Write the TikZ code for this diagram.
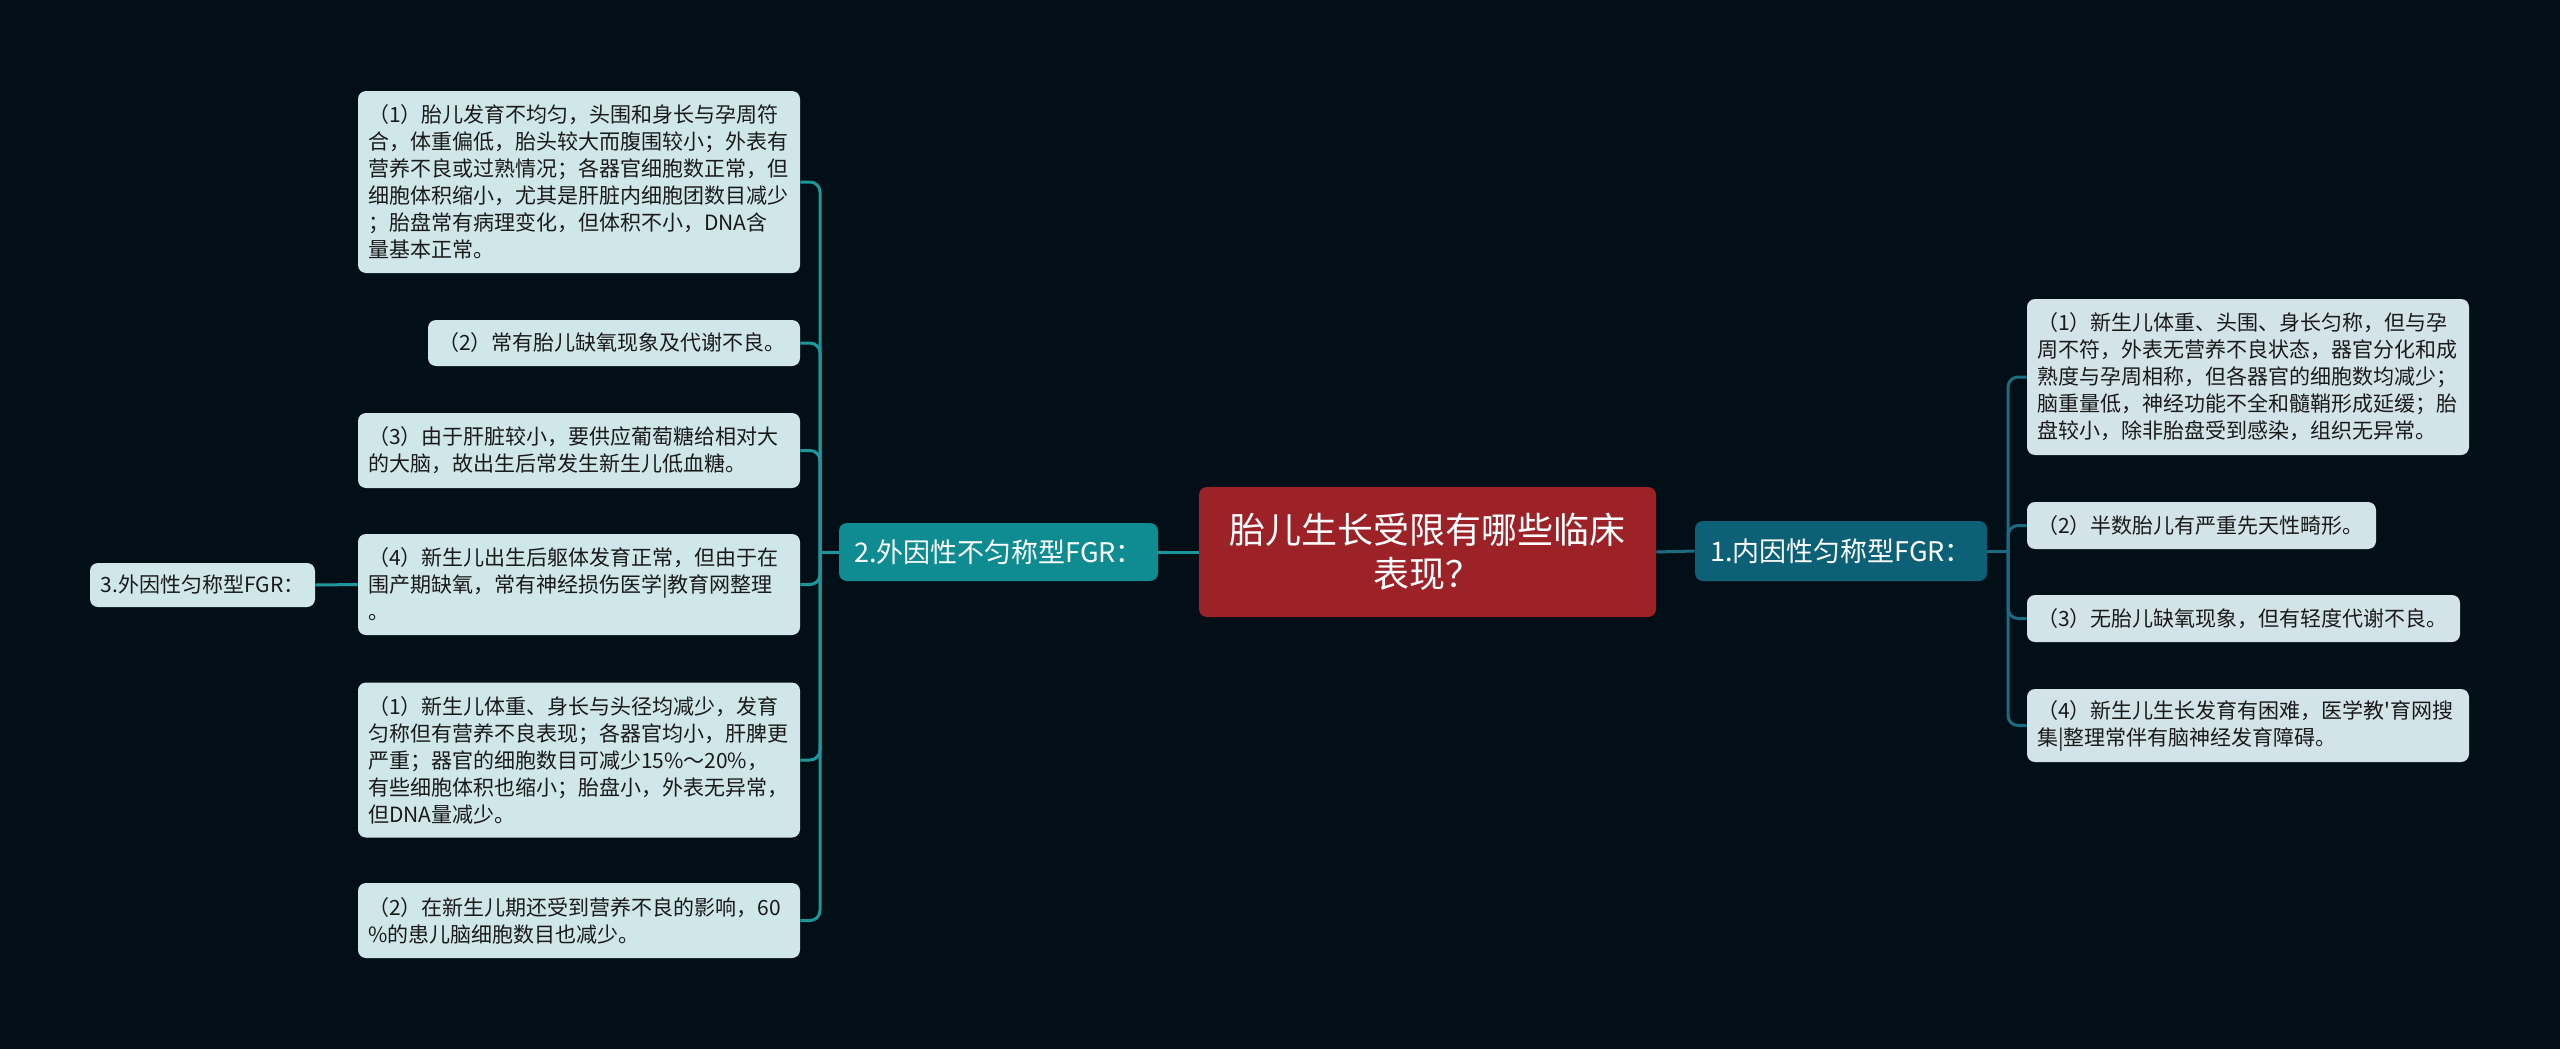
\documentclass[tikz,border=0pt]{standalone}
\usepackage{fontspec}
\newfontfamily\cjk{Noto Sans CJK SC}
\definecolor{bg}{HTML}{030F17}
\definecolor{rootfill}{HTML}{9C2228}
\definecolor{onefill}{HTML}{0D6177}
\definecolor{twofill}{HTML}{0F8C91}
\definecolor{boxfill}{HTML}{D0E7EA}
\definecolor{rboxfill}{HTML}{D3E4E9}
\definecolor{txt}{HTML}{1A1A1A}
\definecolor{lline}{HTML}{1E979C}
\definecolor{rline}{HTML}{1B6C80}
\begin{document}
\begin{tikzpicture}[x=0.5pt,y=-0.5pt,
  every node/.style={font=\cjk},
  leaf/.style={fill=boxfill, rounded corners=4pt, text=txt, inner xsep=5pt, inner ysep=0pt,
    align=left, font=\cjk\fontsize{10.5pt}{13.5pt}\selectfont},
  rleaf/.style={leaf, fill=rboxfill},
  rootbox/.style={fill=rootfill, rounded corners=4pt, text=white, align=center,
    minimum width=228.5pt, minimum height=65pt, inner sep=0pt,
    font=\cjk\fontsize{18pt}{22pt}\selectfont},
  mainbox/.style={rounded corners=4pt, text=white, align=center, inner sep=0pt,
    font=\cjk\fontsize{13.5pt}{16pt}\selectfont},
  lconn/.style={draw=lline, line width=1.5pt, rounded corners=5pt},
  rconn/.style={draw=rline, line width=1.5pt, rounded corners=5pt}
]
\useasboundingbox (0,0) rectangle (2560,1049);
\fill[bg] (0,0) rectangle (2560,1049);

% root
\node[rootbox] (C) at (1427.5,552) {胎儿生长受限有哪些临床\\表现？};

% main branches
\node[mainbox, fill=onefill, minimum width=146pt, minimum height=30pt] (N1) at (1841,551) {1.内因性匀称型FGR：};
\node[mainbox, fill=twofill, minimum width=159.5pt, minimum height=29pt] (N2) at (998.5,552) {2.外因性不匀称型FGR：};
\node[leaf, align=center, minimum width=112.5pt, minimum height=22pt] (N3) at (202.5,585) {3.外因性匀称型FGR：};

% left leaves
\node[leaf, text width=211pt, minimum height=91pt] (L1) at (579,182) {（1）胎儿发育不均匀，头围和身长与孕周符\\合，体重偏低，胎头较大而腹围较小；外表有\\营养不良或过熟情况；各器官细胞数正常，但\\细胞体积缩小，尤其是肝脏内细胞团数目减少\\；胎盘常有病理变化，但体积不小，DNA含\\量基本正常。};
\node[leaf, text width=176pt, minimum height=23pt] (L2) at (614,343) {（2）常有胎儿缺氧现象及代谢不良。};
\node[leaf, text width=211pt, minimum height=37.5pt] (L3) at (579,450.5) {（3）由于肝脏较小，要供应葡萄糖给相对大\\的大脑，故出生后常发生新生儿低血糖。};
\node[leaf, text width=211pt, minimum height=50.5pt] (L4) at (579,584.5) {（4）新生儿出生后躯体发育正常，但由于在\\围产期缺氧，常有神经损伤医学|教育网整理\\。};
\node[leaf, text width=211pt, minimum height=77.5pt] (L5) at (579,760) {（1）新生儿体重、身长与头径均减少，发育\\匀称但有营养不良表现；各器官均小，肝脾更\\严重；器官的细胞数目可减少15\%～20\%，\\有些细胞体积也缩小；胎盘小，外表无异常，\\但DNA量减少。};
\node[leaf, text width=211pt, minimum height=37.5pt] (L6) at (579,920.5) {（2）在新生儿期还受到营养不良的影响，60\\\%的患儿脑细胞数目也减少。};

% right leaves
\node[rleaf, text width=211pt, minimum height=78pt] (R1) at (2248,377) {（1）新生儿体重、头围、身长匀称，但与孕\\周不符，外表无营养不良状态，器官分化和成\\熟度与孕周相称，但各器官的细胞数均减少；\\脑重量低，神经功能不全和髓鞘形成延缓；胎\\盘较小，除非胎盘受到感染，组织无异常。};
\node[rleaf, text width=164.5pt, minimum height=23.5pt] (R2) at (2201.5,525.5) {（2）半数胎儿有严重先天性畸形。};
\node[rleaf, text width=206.5pt, minimum height=23.5pt] (R3) at (2243.5,618.5) {（3）无胎儿缺氧现象，但有轻度代谢不良。};
\node[rleaf, text width=211pt, minimum height=36.5pt] (R4) at (2248,725.5) {（4）新生儿生长发育有困难，医学教'育网搜\\集|整理常伴有脑神经发育障碍。};

% junction points
\coordinate (rb) at (2008,551);
\coordinate (lb) at (820,552);

% connectors
\draw[rconn] (C.east) -- (N1.west);
\draw[rconn] (N1.east) -- (rb);
\foreach \n in {R1,R2,R3,R4} \draw[rconn] (rb) |- (\n.west);

\draw[lconn] (C.west) -- (N2.east);
\draw[lconn] (N2.west) -- (lb);
\foreach \n in {L1,L2,L3,L4,L5,L6} \draw[lconn] (lb) |- (\n.east);
\draw[lconn] (N3.east) -- (L4.west);
\end{tikzpicture}
\end{document}
